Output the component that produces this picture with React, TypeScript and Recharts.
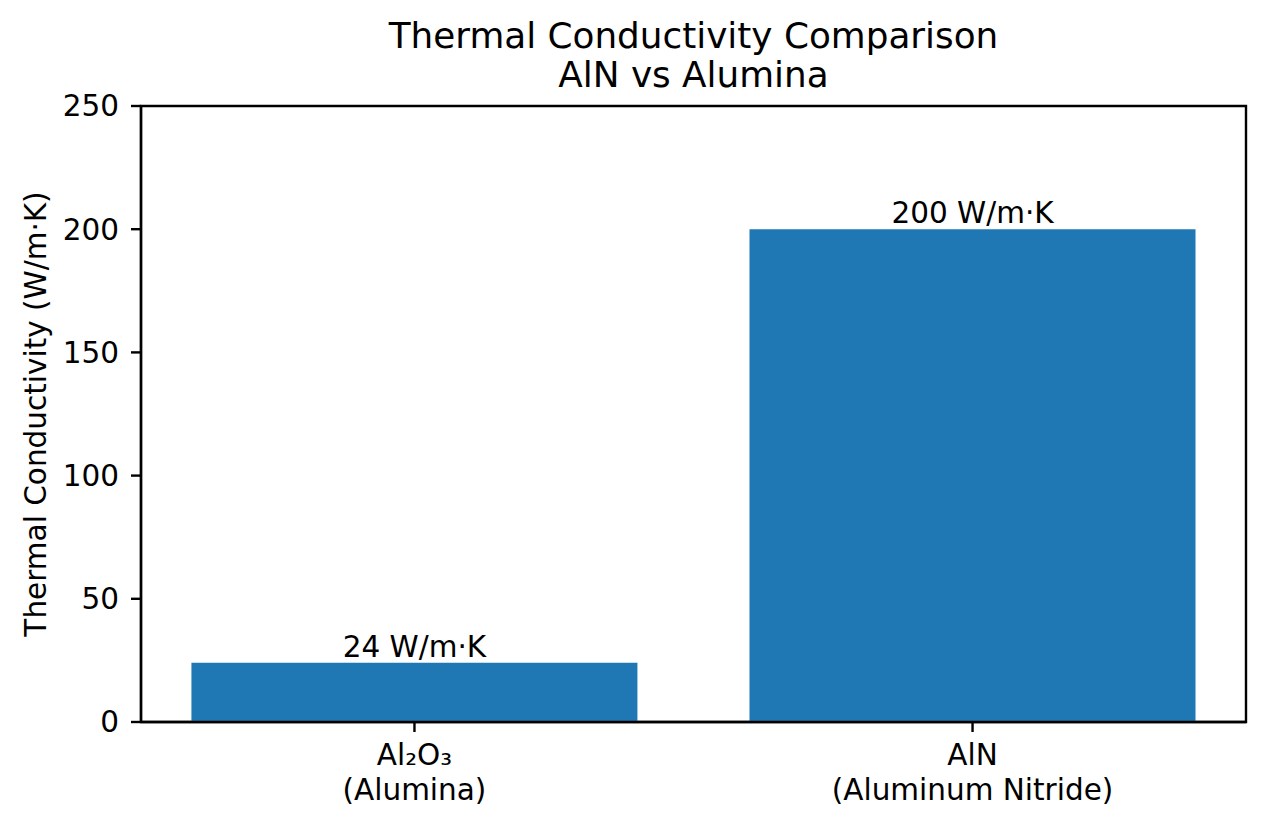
import { BarChart, Bar, XAxis, YAxis, LabelList, ReferenceArea } from "recharts";

const materials = ["Al₂O₃\n(Alumina)", "AlN\n(Aluminum Nitride)"];
const positions = [0, 1];
const conductivity = [24, 200];
const xDomain = [-0.49, 1.49];
const yDomain = [0, 250];
const yTicks = [0, 50, 100, 150, 200, 250];
const titleLines = ["Thermal Conductivity Comparison", "AlN vs Alumina"];
const yLabel = "Thermal Conductivity (W/m·K)";
const unit = "W/m·K";

const FONT = "DejaVu Sans";
const FS = 29.5;
const LW = 2.4;

const data = positions.map((p, i) => ({ pos: p, value: conductivity[i] }));

function XTick({ x, y, payload }: any) {
  const lines = String(materials[payload.value] ?? "").split("\n");
  return (
    <text x={x} y={y} textAnchor="middle" fontSize={FS} fontFamily={FONT} fill="#000">
      {lines.map((l, i) => (
        <tspan key={i} x={x} dy={i === 0 ? 33 : 35}>
          {l}
        </tspan>
      ))}
    </text>
  );
}

export default function App() {
  return (
    <div style={{ position: "absolute", left: 0, top: 0, background: "#fff" }}>
      <BarChart
        width={1268}
        height={830}
        data={data}
        margin={{ top: 106, right: 22, bottom: 28, left: 21 }}
        style={{ fontFamily: FONT }}
      >
        <XAxis
          dataKey="pos"
          type="number"
          domain={xDomain}
          ticks={positions}
          interval={0}
          allowDataOverflow
          height={80}
          axisLine={{ stroke: "#000", strokeWidth: LW }}
          tickLine={{ stroke: "#000", strokeWidth: LW }}
          tickSize={10}
          tickMargin={0}
          tick={<XTick />}
        />
        <YAxis
          width={120}
          domain={yDomain}
          ticks={yTicks}
          interval={0}
          axisLine={{ stroke: "#000", strokeWidth: LW }}
          tickLine={{ stroke: "#000", strokeWidth: LW }}
          tickSize={10}
          tickMargin={12}
          tick={{ fill: "#000", fontSize: FS, fontFamily: FONT }}
        />
        <ReferenceArea
          x1={xDomain[0]}
          x2={xDomain[1]}
          y1={yDomain[0]}
          y2={yDomain[1]}
          fill="none"
          stroke="#000"
          strokeWidth={LW}
          ifOverflow="visible"
        />
        <Bar dataKey="value" fill="#1f77b4" barSize={446} isAnimationActive={false}>
          <LabelList
            dataKey="value"
            position="top"
            offset={6}
            formatter={(v: any) => `${v} ${unit}`}
            style={{ fill: "#000", fontSize: FS, fontFamily: FONT }}
          />
        </Bar>
        <text x={693.5} y={48} textAnchor="middle" fontSize={35.8} fontFamily={FONT} fill="#000">
          {titleLines[0]}
        </text>
        <text x={693.5} y={87} textAnchor="middle" fontSize={35.8} fontFamily={FONT} fill="#000">
          {titleLines[1]}
        </text>
        <text
          x={46}
          y={414}
          transform="rotate(-90 46 414)"
          textAnchor="middle"
          fontSize={FS}
          fontFamily={FONT}
          fill="#000"
        >
          {yLabel}
        </text>
      </BarChart>
    </div>
  );
}
